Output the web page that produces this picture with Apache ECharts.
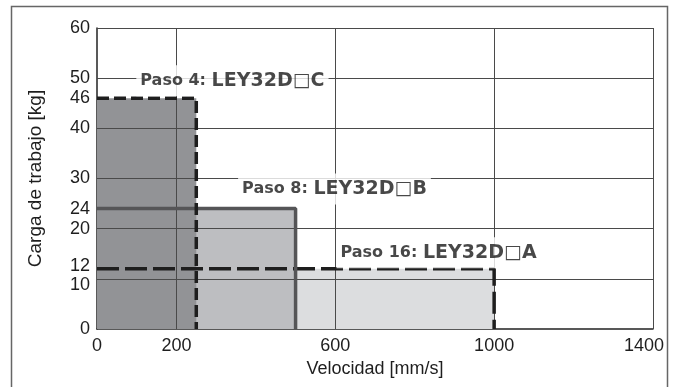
<!DOCTYPE html>
<html>
<head>
<meta charset="utf-8">
<script src="https://cdn.jsdelivr.net/npm/echarts@6/dist/echarts.min.js"></script>
<style>
  html, body { margin: 0; padding: 0; background: #fff; }
  #chart { width: 679px; height: 387px; }
</style>
</head>
<body>
<div id="chart"></div>
<script>
// ---- data ----
const stepNames = ['Paso 4:', 'Paso 8:', 'Paso 16:'];
const modelNames = ['LEY32D\u25A1C', 'LEY32D\u25A1B', 'LEY32D\u25A1A'];
const maxSpeed = [250, 500, 1000];      // mm/s
const maxLoad = [46, 24, 12];           // kg
const xTickLabels = [0, 200, 600, 1000, 1400];
const yTickLabels = [0, 10, 12, 20, 24, 30, 40, 46, 50, 60];
const xGridValues = [200, 600, 1000, 1400];
const yGridValues = [10, 20, 30, 40, 50, 60];

// ---- style (not data) ----
const fillColors = ['#929396', '#bdbec1', '#dcdddf'];
const borderStyles = [
  { color: '#1e1e1e', width: 3.5, type: [12, 5] },
  { color: '#555557', width: 3.5, type: 'solid' },
  { color: '#1e1e1e', width: 3.5, type: [22, 6] }
];
const labelAnchors = [[341, 49.5], [598, 27.9], [860, 15.2]];

const chart = echarts.init(document.getElementById('chart'));
const series = [];

// fills: drawn from largest area (light) to smallest (dark) so dark is on top
for (let i = maxSpeed.length - 1; i >= 0; i--) {
  series.push({
    type: 'line', z: 2, silent: true, symbol: 'none',
    data: [[0, maxLoad[i]], [maxSpeed[i], maxLoad[i]]],
    lineStyle: { width: 0 },
    areaStyle: { color: fillColors[i], opacity: 1 }
  });
}

// grid lines (above fills)
series.push({
  type: 'line', z: 3, silent: true, symbol: 'none', data: [],
  markLine: {
    silent: true, symbol: 'none', label: { show: false }, animation: false,
    lineStyle: { color: '#4a4a4a', width: 1, type: 'solid' },
    data: xGridValues.map(v => ({ xAxis: v })).concat(yGridValues.map(v => ({ yAxis: v })))
  }
});

// borders
for (let i = maxSpeed.length - 1; i >= 0; i--) {
  series.push({
    type: 'line', z: 6, silent: true, symbol: 'none',
    data: [[0, maxLoad[i]], [maxSpeed[i], maxLoad[i]], [maxSpeed[i], 0]],
    lineStyle: borderStyles[i]
  });
}

// labels
series.push({
  type: 'scatter', z: 10, silent: true, symbolSize: 0,
  data: labelAnchors.map((p, i) => ({ value: p, name: i })),
  label: {
    show: true, position: 'inside',
    backgroundColor: '#ffffff',
    padding: [6, 4, 6, 4],
    formatter: p => '{a|' + stepNames[p.dataIndex] + ' }{b|' + modelNames[p.dataIndex] + '}',
    rich: {
      a: { fontFamily: 'DejaVu Sans', fontWeight: 'bold', fontSize: 16, color: '#1a1a1a' },
      b: { fontFamily: 'DejaVu Sans', fontWeight: 'bold', fontSize: 19, color: '#1a1a1a' }
    }
  }
});

const labelFont = { fontFamily: 'Liberation Sans', fontSize: 18, color: '#1e1e1e' };

chart.setOption({
  animation: false,
  backgroundColor: '#ffffff',
  grid: { left: 97, right: 26, top: 28, bottom: 58 },
  xAxis: {
    type: 'value', min: 0, max: 1400, interval: 200,
    name: 'Velocidad [mm/s]', nameLocation: 'middle', nameGap: 28,
    nameTextStyle: { fontFamily: 'Liberation Sans', fontSize: 18, color: '#1e1e1e' },
    axisLine: { show: true, onZero: false, lineStyle: { color: '#222', width: 1.5 } },
    axisTick: { show: false },
    splitLine: { show: false },
    axisLabel: {
      customValues: xTickLabels, margin: 8,
      fontFamily: 'Liberation Sans', fontSize: 18, color: '#1e1e1e',
      formatter: v => v === xTickLabels[xTickLabels.length - 1] ? '{mx|' + v + '}' : '{n|' + v + '}',
      rich: {
        n: labelFont,
        mx: Object.assign({ padding: [0, 18, 0, 0] }, labelFont)
      }
    }
  },
  yAxis: {
    type: 'value', min: 0, max: 60, interval: 10,
    name: 'Carga de trabajo [kg]', nameLocation: 'middle', nameGap: 52,
    nameTextStyle: { fontFamily: 'Liberation Sans', fontSize: 19, color: '#1e1e1e' },
    axisLine: { show: true, onZero: false, lineStyle: { color: '#222', width: 1.5 } },
    axisTick: { show: false },
    splitLine: { show: false },
    axisLabel: {
      customValues: yTickLabels, margin: 7,
      fontFamily: 'Liberation Sans', fontSize: 18, color: '#1e1e1e',
      formatter: v => v === 10 ? '{lo|' + v + '}' : (v === 12 ? '{hi|' + v + '}' : '{n|' + v + '}'),
      rich: {
        n: labelFont,
        lo: Object.assign({ padding: [12, 0, 0, 0] }, labelFont),
        hi: Object.assign({ padding: [0, 0, 6, 0] }, labelFont)
      }
    }
  },
  graphic: [{
    type: 'rect', silent: true, z: 0,
    shape: { x: 11.5, y: 6.5, width: 656, height: 400 },
    style: { fill: 'none', stroke: '#666', lineWidth: 1.5 }
  }],
  series: series
});
</script>
</body>
</html>
